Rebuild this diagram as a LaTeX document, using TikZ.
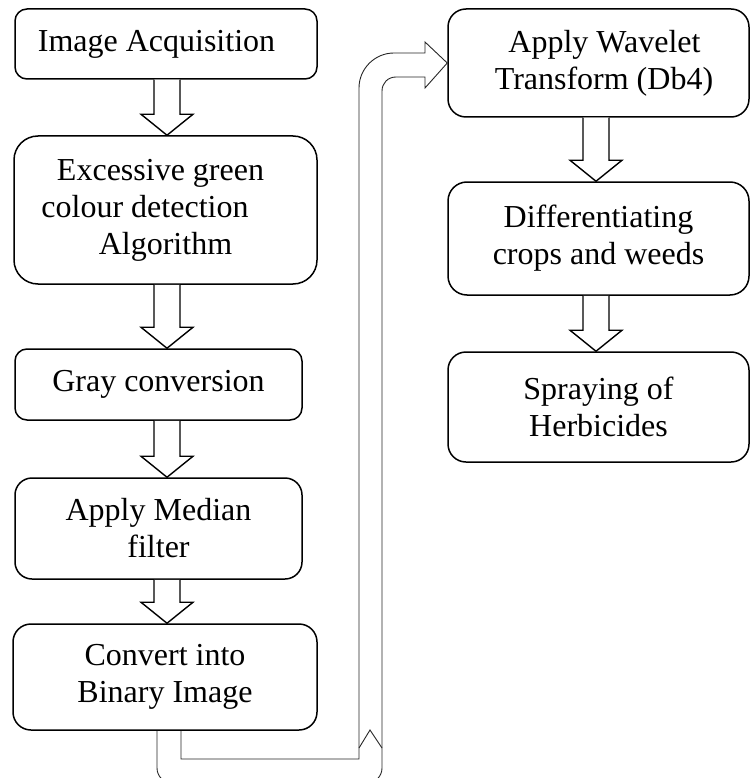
\documentclass[tikz,border=0pt]{standalone}
\usepackage{fontspec}
\setmainfont{Liberation Serif}
\usetikzlibrary{calc}

% hollow block arrow pointing down from node #1 to node #2, centred on x = #3
\newcommand{\blockdown}[3]{%
  \draw[blockarrow] let \p1=(#1.south), \p2=(#2.north) in
    (#3-13pt,\y1) -- (#3-13pt,\y2+21pt) -- (#3-26pt,\y2+21pt) -- (#3,\y2)
    -- (#3+26pt,\y2+21pt) -- (#3+13pt,\y2+21pt) -- (#3+13pt,\y1);}
% trailing space that survives a line break
\newcommand{\padright}[1]{\hspace*{#1}\mbox{}}

\begin{document}
\begin{tikzpicture}[x=1pt,y=-1pt,
  stage/.style={draw, line width=1.5pt, inner sep=0pt, align=center,
    font=\fontsize{32pt}{37pt}\selectfont},
  blockarrow/.style={draw, line width=1.4pt, fill=white, line join=miter},
  bentarrow/.style={draw=black!85, line width=0.9pt, line join=miter}]
\useasboundingbox (0,0) rectangle (750,778);

% left column
\node[stage, rounded corners=12pt, minimum width=302pt, minimum height=70pt]
  (acq) at (166,44) {Image Acquisition\padright{19pt}};
\node[stage, rounded corners=24pt, minimum width=303pt, minimum height=148pt]
  (exg) at (165.5,210) {Excessive green\padright{10pt}\\colour detection\padright{41pt}\\Algorithm};
\node[stage, rounded corners=12pt, minimum width=287pt, minimum height=71pt]
  (gray) at (158.5,384.5) {Gray conversion};
\node[stage, rounded corners=17pt, minimum width=287pt, minimum height=101pt]
  (med) at (158.5,528.5) {Apply Median\\filter};
\node[stage, rounded corners=18pt, minimum width=304pt, minimum height=106pt]
  (bin) at (165,677) {Convert into\\Binary Image};

% right column
\node[stage, rounded corners=18pt, minimum width=301pt, minimum height=108pt]
  (wav) at (598.5,63) {\hspace*{12pt}Apply Wavelet\\\hspace*{11pt}Transform (Db4)};
\node[stage, rounded corners=19pt, minimum width=301pt, minimum height=113pt]
  (diff) at (598.5,238.5) {Differentiating\\crops and weeds};
\node[stage, rounded corners=18pt, minimum width=301pt, minimum height=110pt]
  (spray) at (598.5,407) {Spraying of\\Herbicides};

% straight block arrows
\blockdown{acq}{exg}{167pt}
\blockdown{exg}{gray}{167pt}
\blockdown{gray}{med}{167pt}
\blockdown{med}{bin}{167pt}
\blockdown{wav}{diff}{596pt}
\blockdown{diff}{spray}{596pt}

% bent block arrow from the binary image stage up to the wavelet stage
\draw[bentarrow]
  ($(bin.south)+(-8,0)$) -- (157,768) .. controls (157,776.3) and (163.7,783) .. (172,783)
  -- (367,783) .. controls (375.3,783) and (382,776.3) .. (382,768)
  -- (382,91) .. controls (382,83.3) and (387.7,77) .. (396,77)
  -- (425,77) -- (425,88) -- (wav.west) -- (425,42) -- (425,53)
  -- (394,53) .. controls (374.7,53) and (359,68.7) .. (359,88)
  -- (359,759) -- (181,759) -- ($(bin.south)+(16,0)$);
\draw[bentarrow] (359,748) -- (370,730) -- (382,748);
\end{tikzpicture}
\end{document}
